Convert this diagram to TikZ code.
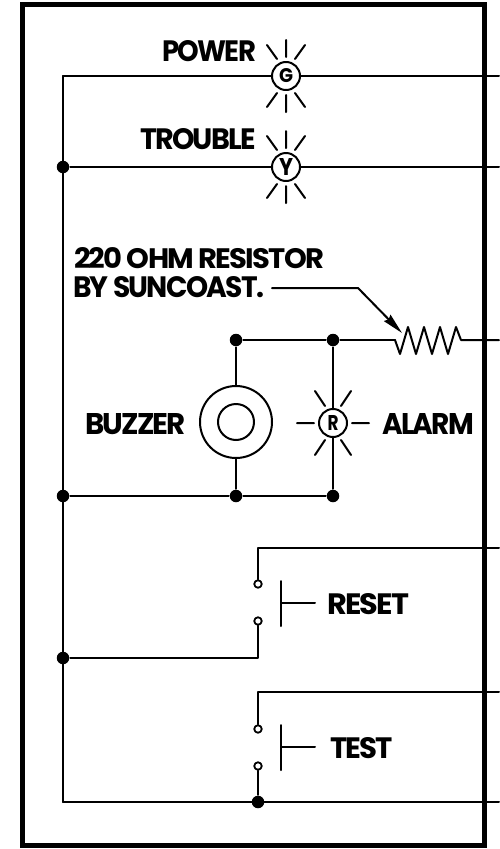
\documentclass[tikz,border=0pt]{standalone}
\usepackage{fontspec}
\setmainfont[LetterSpace=-6]{Poppins}
\usetikzlibrary{arrows.meta}
\tikzset{
	lamp/.style={draw,circle,line width=2pt,fill=white,minimum size=28pt,inner sep=0pt},
	dot/.style={circle,fill=black,minimum size=12.5pt,inner sep=0pt},
	term/.style={draw,circle,line width=1.8pt,fill=white,minimum size=7.5pt,inner sep=0pt},
	lbl/.style={inner sep=0pt,anchor=west}
}
\def\lbltext#1#2#3{\resizebox{#1pt}{#2pt}{\bfseries #3}}
\begin{document}
\begin{tikzpicture}[x=1pt,y=-1pt,line width=2pt,line join=round,line cap=round]
	\useasboundingbox (0,0) rectangle (499,849);
	\fill[white] (0,0) rectangle (499,849);
	\def\xbus{63} \def\xend{499}
	\def\xsw{258} \def\xbar{281} \def\xstem{315}
	% power and trouble lamps
	\node[lamp] (lampG) at (286,76) {\lbltext{14}{14}{G}};
	\node[lamp] (lampY) at (286,167) {\lbltext{14}{17}{Y}};
	\coordinate (busT) at (\xbus,76);
	\coordinate (endG) at (\xend,76);
	\node[dot] (dotY) at (\xbus,167) {};
	\coordinate (endY) at (\xend,167);
	\draw (busT)--(lampG) (lampG)--(endG);
	\draw (dotY)--(lampY) (lampY)--(endY);
	\draw[shift={(lampG)}] (0,-19)--(0,-36) (0,19)--(0,36) (-9,-17)--(-19,-31) (9,-17)--(19,-31) (-9,17)--(-19,31) (9,17)--(19,31);
	\draw[shift={(lampY)}] (0,-19)--(0,-36) (0,19)--(0,36) (-9,-17)--(-19,-31) (9,-17)--(19,-31) (-9,17)--(-19,31) (9,17)--(19,31);
	\node[lbl] (txtpower) at (161,51) {\lbltext{94}{21}{POWER}};
	\node[lbl] (txttrouble) at (139,139) {\lbltext{116}{21}{TROUBLE}};
	% resistor branch
	\node[dot] (dotB) at (236,340) {};
	\node[dot] (dotR) at (333,340) {};
	\coordinate (resL) at (395,340);
	\coordinate (resR) at (461,340);
	\coordinate (endR) at (\xend,340);
	\draw (dotB)--(dotR)--(resL);
	\draw (resL)--(400,354)--(408,327)--(416,354)--(424,327)--(432,354)--(440,327)--(448,354)--(456,327)--(resR)--(endR);
	\node[lbl] (txtohm) at (73,258) {\lbltext{250}{21}{220 OHM RESISTOR}};
	\node[lbl] (txtby) at (72,287) {\lbltext{191}{21}{BY SUNCOAST.}};
	\coordinate (leadA) at (272,288);
	\coordinate (leadB) at (358,288);
	\coordinate (leadC) at (402,333);
	\draw[-{Stealth[length=21pt,width=9pt,inset=2pt]}] (leadA)--(leadB)--(leadC);
	% buzzer and alarm
	\node[dot] (dotL) at (\xbus,496) {};
	\node[dot] (dotBb) at (236,496) {};
	\node[dot] (dotRb) at (333,496) {};
	\node[draw,circle,line width=2pt,minimum size=72pt,inner sep=0pt] (buzzer) at (236,422) {};
	\node[draw,circle,line width=2pt,minimum size=36pt,inner sep=0pt] (buzzin) at (236,422) {};
	\node[lamp] (lampR) at (333,423) {\lbltext{11}{15}{R}};
	\draw (dotB)--(buzzer) (buzzer)--(dotBb);
	\draw (dotR)--(lampR) (lampR)--(dotRb);
	\draw (dotL)--(dotBb)--(dotRb);
	\draw[shift={(lampR)}] (-19,0)--(-36,0) (19,0)--(36,0) (-8,-17)--(-18,-32) (8,-17)--(18,-32) (-8,17)--(-18,32) (8,17)--(18,32);
	\node[lbl] (txtbuzzer) at (84,424) {\lbltext{101}{21}{BUZZER}};
	\node[lbl] (txtalarm) at (381,424) {\lbltext{92}{21}{ALARM}};
	% reset switch
	\node[term] (swAt) at (\xsw,584) {};
	\node[term] (swAb) at (\xsw,621) {};
	\coordinate (cornA) at (\xsw,548);
	\coordinate (endA) at (\xend,548);
	\coordinate (cornB) at (\xsw,658);
	\node[dot] (dotA) at (\xbus,658) {};
	\draw (endA)--(cornA)--(swAt);
	\draw (swAb)--(cornB)--(dotA);
	\coordinate (barAt) at (\xbar,581);
	\coordinate (barAb) at (\xbar,626);
	\coordinate (barAm) at (\xbar,603);
	\coordinate (stemA) at (\xstem,603);
	\draw (barAt)--(barAb) (barAm)--(stemA);
	\node[lbl] (txtreset) at (326,604) {\lbltext{82}{21}{RESET}};
	% test switch
	\node[term] (swBt) at (\xsw,729) {};
	\node[term] (swBb) at (\xsw,766) {};
	\coordinate (cornC) at (\xsw,692);
	\coordinate (endC) at (\xend,692);
	\node[dot] (dotC) at (\xsw,802) {};
	\coordinate (busB) at (\xbus,802);
	\coordinate (endB) at (\xend,802);
	\draw (endC)--(cornC)--(swBt);
	\draw (swBb)--(dotC);
	\draw (busB)--(endB);
	\draw (busT)--(busB);
	\coordinate (barBt) at (\xbar,725);
	\coordinate (barBb) at (\xbar,770);
	\coordinate (barBm) at (\xbar,747);
	\coordinate (stemB) at (\xstem,747);
	\draw (barBt)--(barBb) (barBm)--(stemB);
	\node[lbl] (txttest) at (329,748) {\lbltext{63}{21}{TEST}};
	% frame
	\draw[line width=5pt,line cap=butt,line join=miter] (22,4) rectangle (484,845);
\end{tikzpicture}
\end{document}
